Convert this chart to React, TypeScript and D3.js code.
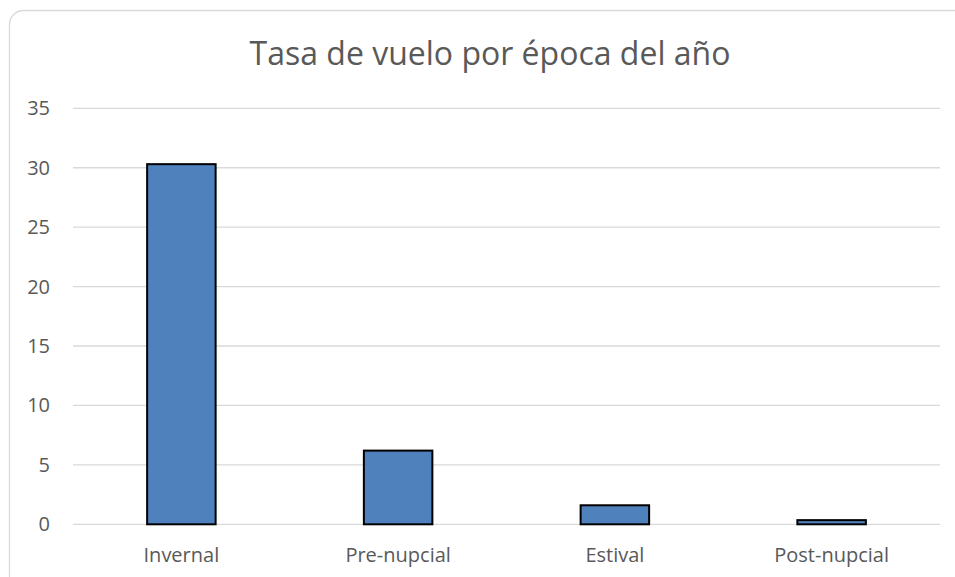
import React from 'react'
import * as d3 from 'd3'

const categories = ['Invernal', 'Pre-nupcial', 'Estival', 'Post-nupcial']
const values = [30.3, 6.2, 1.6, 0.35]
const yTicks = [0, 5, 10, 15, 20, 25, 30, 35]
const title = 'Tasa de vuelo por época del año'

const W = 955
const H = 577
const plot = { left: 73, right: 940, top: 108.3, bottom: 524.3 }
const font = '"Open Sans", sans-serif'

export default function App() {
    const x = d3.scaleBand<string>()
        .domain(categories)
        .range([plot.left, plot.right])
        .paddingInner(0.684)
        .paddingOuter(0.342)
    const y = d3.scaleLinear().domain([0, 35]).range([plot.bottom, plot.top])

    return (
        <svg width={W} height={H} style={{ position: 'absolute', left: 0, top: 0, background: 'white' }}>
            <rect x={9.5} y={10.5} width={960} height={580} rx={14} fill="white" stroke="#d9d9d9" strokeWidth={1.3} />
            <text x={490} y={65} textAnchor="middle" fontFamily={font} fontSize={32} fill="#595959">{title}</text>
            {yTicks.map(t => (
                <g key={t}>
                    <line x1={plot.left} x2={plot.right} y1={y(t)} y2={y(t)} stroke="#d9d9d9" strokeWidth={1.3} />
                    <text x={50} y={y(t) + 7} textAnchor="end" fontFamily={font} fontSize={20} fill="#595959">{t}</text>
                </g>
            ))}
            {categories.map((c, i) => (
                <rect key={c} x={x(c)} y={y(values[i])} width={x.bandwidth()} height={y(0) - y(values[i])}
                    fill="#4f81bd" stroke="#000" strokeWidth={2} />
            ))}
            {categories.map(c => (
                <text key={c} x={(x(c) || 0) + x.bandwidth() / 2} y={562} textAnchor="middle"
                    fontFamily={font} fontSize={20} fill="#595959">{c}</text>
            ))}
        </svg>
    )
}
